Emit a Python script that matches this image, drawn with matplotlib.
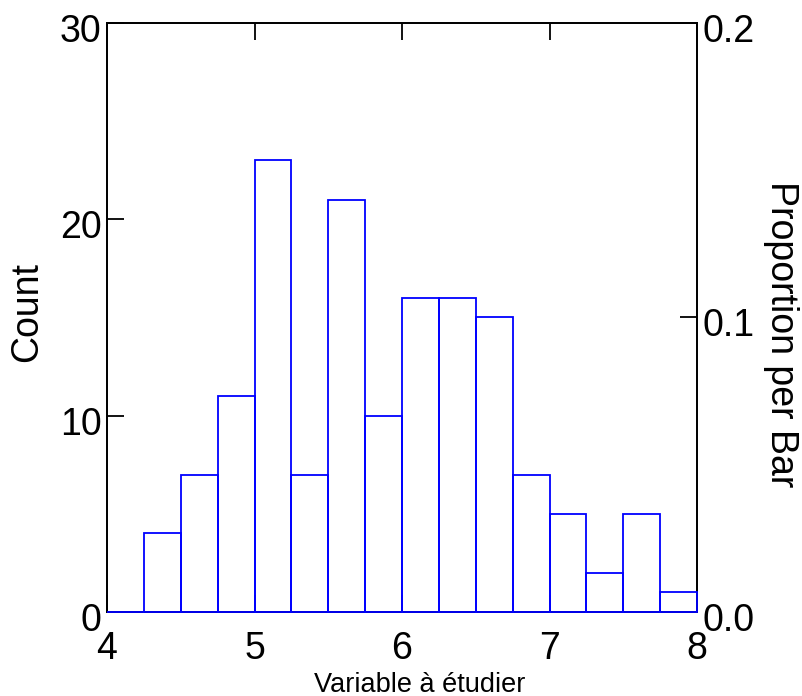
import matplotlib
matplotlib.use("Agg")
import matplotlib.pyplot as plt
import matplotlib.transforms as mtransforms
import numpy as np

bin_edges = [4.0, 4.25, 4.5, 4.75, 5.0, 5.25, 5.5, 5.75, 6.0, 6.25, 6.5, 6.75, 7.0, 7.25, 7.5, 7.75, 8.0]
counts = [0, 4, 7, 11, 23, 7, 21, 10, 16, 16, 15, 7, 5, 2, 5, 1]
x_ticks = [4, 5, 6, 7, 8]
count_ticks = [0, 10, 20, 30]
prop_ticks = [0.0, 0.1, 0.2]
total = sum(counts)

plt.rcParams['font.family'] = ['Liberation Sans', 'DejaVu Sans']

fig = plt.figure(figsize=(8.03, 6.96), dpi=100)
ax = fig.add_axes([0.1333, 0.1207, 0.868 - 0.1333, 0.967 - 0.1207])
ax2 = ax.twinx()
ax.set_zorder(ax2.get_zorder() + 1)
ax.patch.set_visible(False)

edges = np.array(bin_edges)
widths = np.diff(edges)
bars = ax.bar(edges[:-1], counts, width=widths, align='edge', fill=False,
              edgecolor=(0, 0, 1), linewidth=1.3, zorder=3)
for b in bars:
    b.set_clip_on(False)

ax.set_xlim(4, 8)
ax.set_ylim(0, 30)
ax.set_xticks(x_ticks)
ax.set_yticks(count_ticks)
ax.tick_params(axis='both', direction='in', length=12, width=1.3, labelsize=27)
ax.tick_params(axis='x', top=True, pad=14)
ax.tick_params(axis='y', pad=4)
shift = mtransforms.ScaledTranslation(0, -5 / 100, fig.dpi_scale_trans)
for lab in ax.get_yticklabels():
    lab.set_transform(lab.get_transform() + shift)
for s in ax.spines.values():
    s.set_linewidth(1.3)
ax.set_ylabel('Count', fontsize=27)
ax.yaxis.set_label_coords(-0.105, 0.51)
ax.set_xlabel('Variable à étudier', fontsize=19.5, labelpad=3)
ax.xaxis.label.set_x(0.53)

ax2.set_ylim(0, 30 / total)
ax2.set_yticks(prop_ticks)
ax2.set_yticklabels([f"{t:.1f}" for t in prop_ticks])
ax2.tick_params(axis='y', direction='in', length=12, width=1.3, labelsize=27, pad=4)
for lab in ax2.get_yticklabels():
    lab.set_transform(lab.get_transform() + shift)
for s in ax2.spines.values():
    s.set_linewidth(1.3)
ax2.set_ylabel('Proportion per Bar', fontsize=27, rotation=270, labelpad=32)
ax2.yaxis.label.set_y(0.472)

fig.savefig('out.png', dpi=100)
